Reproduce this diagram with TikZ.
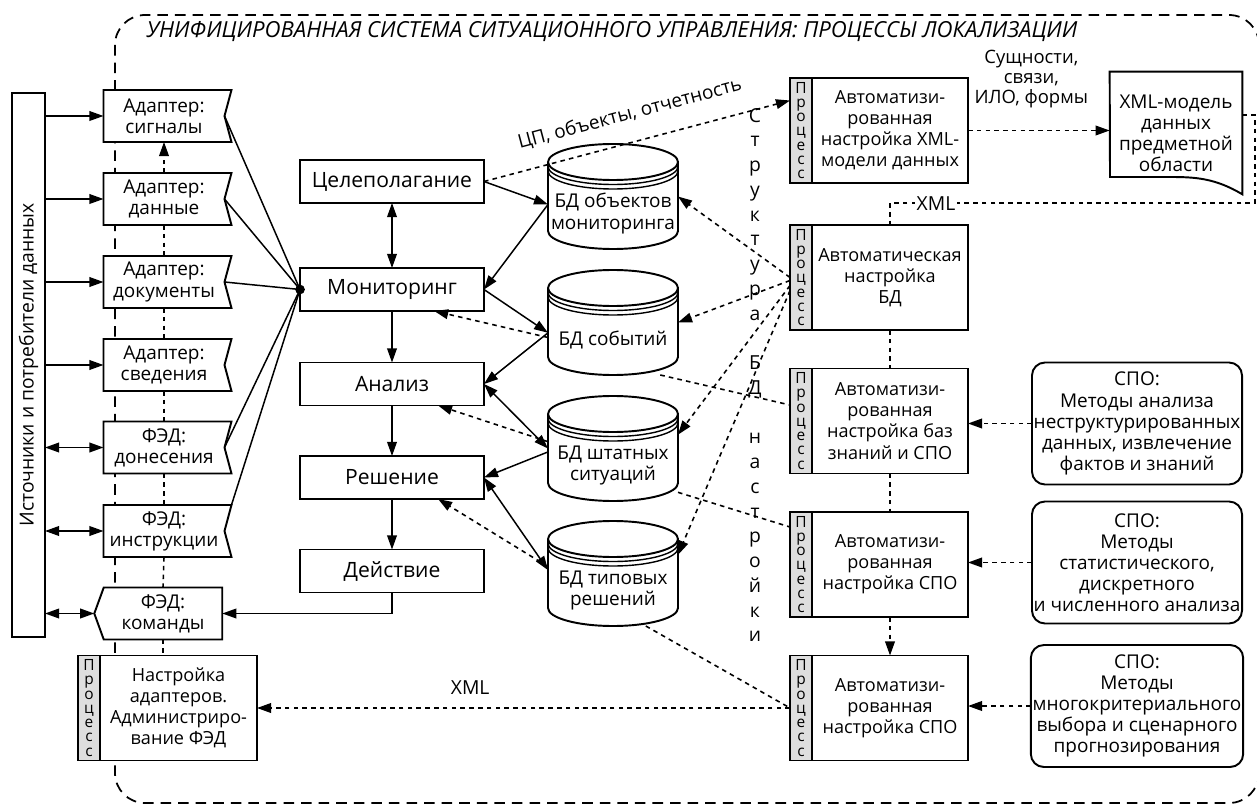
\documentclass[tikz,border=0pt]{standalone}
\usepackage{fontspec}
\usepackage{graphicx}
\setmainfont{Open Sans}
\usetikzlibrary{positioning,shapes.symbols,arrows.meta}

\tikzset{
  >={Triangle[length=8pt,width=5.5pt]},
  sysborder/.style={line width=1pt,dash pattern=on 6pt off 4pt,rounded corners=0.6cm},
  heading/.style={font=\fontsize{12.6}{14}\selectfont\itshape},
  box/.style={draw,line width=1.1pt,fill=white,outer sep=0pt},
  stage/.style={box,minimum width=3.68cm,minimum height=0.86cm,font=\fontsize{12}{14}\selectfont},
  adapter/.style={box,shape=signal,signal to=nowhere,signal from=east,signal pointer angle=150,
    minimum width=2.56cm,minimum height=1.04cm,inner sep=1pt,align=center},
  command/.style={adapter,signal to=west,signal from=nowhere,signal pointer angle=140},
  proc/.style={box,minimum width=3.12cm,minimum height=2.1cm,inner sep=1pt,align=center,
    font=\fontsize{10.3}{12}\selectfont},
  procstrip/.style={box,fill=black!13,minimum width=0.44cm,minimum height=2.1cm,inner sep=0pt,
    align=center,font=\fontsize{8.8}{8.1}\selectfont},
  spo/.style={box,rounded corners=0.26cm,minimum width=4.2cm,minimum height=2.44cm,inner sep=1pt,align=center},
  docshape/.style={minimum width=2.64cm,minimum height=2.44cm,inner sep=1pt,align=center},
  bdbox/.style={minimum width=2.6cm,minimum height=2.1cm,inner sep=0pt,outer sep=0pt},
  hub/.style={circle,fill,inner sep=0pt,minimum size=5.5pt},
  link/.style={line width=0.85pt},
  dotlink/.style={line width=0.9pt,dash pattern=on 2.6pt off 2.4pt},
  vtext/.style={align=center,font=\fontsize{11}{14.1}\selectfont},
  pics/bd/.style={code={
    \draw[box] (-65,-34.5) -- (-65,34.5) arc[start angle=180,end angle=0,x radius=65,y radius=18]
      -- (65,-34.5) arc[start angle=0,end angle=-180,x radius=65,y radius=18] -- cycle;
    \draw[line width=1.1pt] (-65,-34.5) arc[start angle=180,end angle=0,x radius=65,y radius=18];
    \draw[line width=0.8pt] (-65,-30) arc[start angle=180,end angle=0,x radius=65,y radius=18];
    \draw[line width=0.8pt] (-65,-25.5) arc[start angle=180,end angle=0,x radius=65,y radius=18];
    \node[bdbox] (-b) at (0,0) {};
    \node[align=center] (-t) at (0,17) {#1};
  }}
}

\begin{document}
\begin{tikzpicture}[x=0.02cm,y=-0.02cm,font=\fontsize{10.8}{12}\selectfont]
  \useasboundingbox (0,0) rectangle (1257,807);

  \draw[sysborder] (115,15) rectangle (1259,803);
  \node[heading] (title) at (612,32) {УНИФИЦИРОВАННАЯ СИСТЕМА СИТУАЦИОННОГО УПРАВЛЕНИЯ: ПРОЦЕССЫ ЛОКАЛИЗАЦИИ};

  % sources and consumers
  \node[box,minimum width=0.66cm,minimum height=10.88cm,inner sep=0pt] (src) at (28.5,365)
    {\rotatebox{90}{\fontsize{11}{13}\selectfont Источники и потребители данных}};

  % adapters
  \node[adapter] (ad1) at (164,116) {Адаптер:\\сигналы};
  \node[adapter] (ad2) at (164,199) {Адаптер:\\данные};
  \node[adapter] (ad3) at (164,282) {Адаптер:\\документы};
  \node[adapter] (ad4) at (164,365) {Адаптер:\\сведения};
  \node[adapter] (ad5) at (164,447.5) {ФЭД:\\донесения};
  \node[adapter] (ad6) at (164,531) {ФЭД:\\инструкции};
  \node[command] (ad7) at (163,613.5) {ФЭД:\\команды};

  % stages
  \node[stage] (goal) at (392,181.5) {Целеполагание};
  \node[stage] (mon) at (392,289.5) {Мониторинг};
  \node[stage] (anl) at (392,384) {Анализ};
  \node[stage] (dec) at (392,477.5) {Решение};
  \node[stage] (act) at (392,571) {Действие};
  \node[hub] (hub) at (mon.west) {};

  % databases
  \pic (obj) at (613,196.5) {bd={БД объектов\\мониторинга}};
  \pic (evt) at (613,322.5) {bd={БД событий}};
  \pic (sit) at (613,448.5) {bd={БД штатных\\ситуаций}};
  \pic (sol) at (613,573.5) {bd={БД типовых\\решений}};

  \node[vtext] (struct) at (755,375)
    {С\\т\\р\\у\\к\\т\\у\\р\\а\\[14pt]Б\\Д\\[14pt]н\\а\\с\\т\\р\\о\\й\\к\\и};

  % processes
  \node[proc] (p1) at (890,130.5) {Автоматизи-\\рованная\\настройка XML-\\модели данных};
  \node[procstrip,left=0pt of p1] (p1s) {П\\р\\о\\ц\\е\\с\\с};
  \node[proc] (p2) at (890,277.5) {Автоматическая\\настройка\\БД};
  \node[procstrip,left=0pt of p2] (p2s) {П\\р\\о\\ц\\е\\с\\с};
  \node[proc] (p3) at (890,421) {Автоматизи-\\рованная\\настройка баз\\знаний и СПО};
  \node[procstrip,left=0pt of p3] (p3s) {П\\р\\о\\ц\\е\\с\\с};
  \node[proc] (p4) at (890,564.5) {Автоматизи-\\рованная\\настройка СПО};
  \node[procstrip,left=0pt of p4] (p4s) {П\\р\\о\\ц\\е\\с\\с};
  \node[proc] (p5) at (890,708) {Автоматизи-\\рованная\\настройка СПО};
  \node[procstrip,left=0pt of p5] (p5s) {П\\р\\о\\ц\\е\\с\\с};
  \node[proc,minimum width=3.14cm] (pad) at (178.5,708) {Настройка\\адаптеров.\\Администриро-\\вание ФЭД};
  \node[procstrip,left=0pt of pad] (pads) {П\\р\\о\\ц\\е\\с\\с};

  % XML model
  \node[docshape] (doc) at (1176,133) {XML-модель\\данных\\предметной\\области};
  \draw[line width=1.1pt] (doc.north west) -- (doc.north east) -- (doc.south east)
    .. controls (1215,178) and (1195,177) .. (1170,177) -- (1110,177) -- cycle;

  % methods
  \node[spo] (spo1) at (1137,423.5) {СПО:\\Методы анализа\\неструктурированных\\данных, извлечение\\фактов и знаний};
  \node[spo] (spo2) at (1137,562.5) {СПО:\\Методы\\статистического,\\дискретного\\и численного анализа};
  \node[spo] (spo3) at (1137,706) {СПО:\\Методы\\многокритериального\\выбора и сценарного\\прогнозирования};

  % sources to adapters
  \draw[link,->] (src.east |- ad1.west) -- (ad1.west);
  \draw[link,->] (src.east |- ad2.west) -- (ad2.west);
  \draw[link,->] (src.east |- ad3.west) -- (ad3.west);
  \draw[link,->] (src.east |- ad4.west) -- (ad4.west);
  \draw[link,<->] (src.east |- ad5.west) -- (ad5.west);
  \draw[link,<->] (src.east |- ad6.west) -- (ad6.west);
  \draw[link,<->] (src.east |- ad7.west) -- (ad7.west);

  % adapters to monitoring
  \draw[link] (ad1.east) -- (hub.center);
  \draw[link] (ad2.east) -- (hub.center);
  \draw[link] (ad3.east) -- (hub.center);
  \draw[link] (ad5.east) -- (hub.center);
  \draw[link] (ad6.north east) -- (hub.center);

  \draw[dotlink,->] (ad2.north) -- (ad1.south);
  \draw[dotlink] (ad2.south) -- (ad3.north);
  \draw[dotlink] (ad3.south) -- (ad4.north);
  \draw[dotlink] (ad4.south) -- (ad5.north);
  \draw[dotlink] (ad5.south) -- (ad6.north);
  \draw[dotlink] (ad6.south) -- (ad7.north);
  \draw[dotlink] (ad7.south) -- (ad7.south |- pad.north);

  % stage chain
  \draw[link,<->] (goal.south) -- (mon.north);
  \draw[link,->] (mon.south) -- (anl.north);
  \draw[link,->] (anl.south) -- (dec.north);
  \draw[link,->] (dec.south) -- (act.north);
  \draw[link,->] (act.south) |- (ad7.east);

  % stages and databases
  \draw[link,->] (goal.east) -- (obj-b.187);
  \draw[link,->] (obj-b.187) -- (mon.east);
  \draw[link,->] (mon.east) -- (evt-b.189);
  \draw[link,->] (evt-b.189) -- (anl.east);
  \draw[dotlink,->] (evt-b.193) -- (mon.333);
  \draw[link,<->] (anl.east) -- (sit-b.west);
  \draw[link,->] (sit-b.183) -- (dec.east);
  \draw[dotlink,->] (sit-b.174) -- (anl.335);
  \draw[link,<->] (dec.east) -- (sol-b.177);
  \draw[dotlink,->] (sol-b.174) -- (dec.335);

  % setup processes
  \draw[dotlink,->] (goal.east) -- ([yshift=0.6cm]p1s.west)
    node[pos=0.5,sloped,above=7pt,font=\fontsize{10.8}{12}\selectfont] (cplabel) {ЦП, объекты, отчетность};
  \draw[dotlink,->] (p1.east) -- (p1.east -| doc.west)
    node[midway,above=9pt,xshift=-0.15cm,align=center,font=\fontsize{10.5}{11.5}\selectfont] (ents) {Сущности,\\связи,\\ИЛО, формы};
  \coordinate (xmlturn) at (1255,203);
  \draw[dotlink] (doc.15) -| (xmlturn) -| (p2.north);
  \node[fill=white,inner sep=1pt,font=\fontsize{11}{13}\selectfont] (xmltop) at (936,204) {XML};

  \draw[dotlink] (p2.south) -- (p3.north);
  \draw[dotlink] (p3.south) -- (p4.north);
  \draw[dotlink,->] (p4.south) -- (p5.north);

  \draw[dotlink,->] (p2s.west) -- (obj-b.east);
  \draw[dotlink,->] ([yshift=-0.06cm]p2s.west) -- (evt-b.east);
  \draw[dotlink,->] ([yshift=-0.16cm]p2s.west) -- (sit-b.12);
  \draw[dotlink,->] ([yshift=-0.26cm]p2s.west) -- (sol-b.16);
  \draw[dotlink] (evt-b.312) -- ([yshift=0.32cm]p3s.west);
  \draw[dotlink] (sit-b.326) -- ([yshift=0.75cm]p4s.west);
  \draw[dotlink] (sol-b.302) -- (p5s.west);
  \draw[dotlink,->] (p5s.west) -- (pad.east)
    node[pos=0.6,above=4pt,font=\fontsize{11}{13}\selectfont] (xmlbot) {XML};

  % methods to processes
  \draw[dotlink,->] (spo1.west) -- (spo1.west -| p3.east);
  \draw[dotlink,->] (spo2.west) -- (spo2.west -| p4.east);
  \draw[dotlink,->] (spo3.west) -- (spo3.west -| p5.east);
\end{tikzpicture}
\end{document}
